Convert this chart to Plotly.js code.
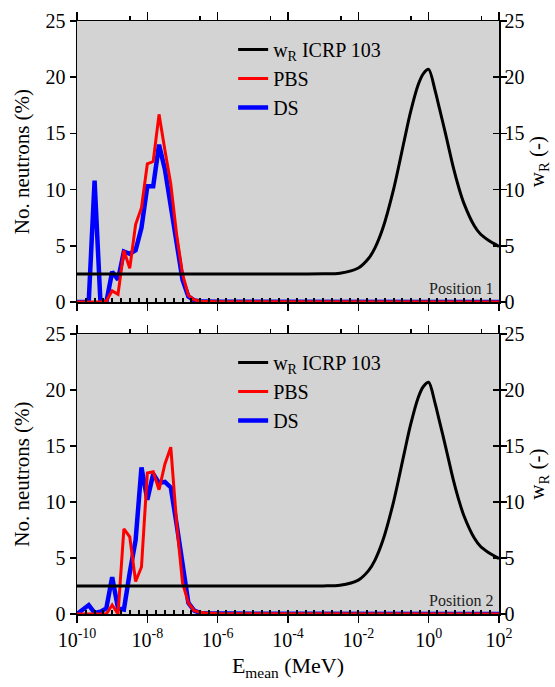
<!DOCTYPE html>
<html>
<head>
<meta charset="utf-8">
<script src="https://cdn.plot.ly/plotly-3.0.1.min.js"></script>
<style>html,body{margin:0;padding:0;background:#fff;}#chart{width:555px;height:687px;}
#chart text{font-family:"Liberation Serif","Times New Roman",Tinos,"DejaVu Serif",serif !important;}</style>
</head>
<body>
<div id="chart"></div>
<script>
// Neutron energy bins (MeV)
const energy = [1e-10,1.468e-10,2.154e-10,3.162e-10,4.642e-10,6.813e-10,
  1e-9,1.468e-9,2.154e-9,3.162e-9,4.642e-9,6.813e-9,
  1e-8,1.468e-8,2.154e-8,3.162e-8,4.642e-8,6.813e-8,
  1e-7,1.468e-7,2.154e-7,3.162e-7,4.642e-7,1e-6,
  1e-5,1e-4,1e-3,1e-2,1e-1,1,10,100];

// Position 1 (%)
const pbs1 = [0,0,0,0,0,0.1, 1.0,0.7,4.6,3.0,6.9,8.4, 12.3,12.5,16.7,13.5,10.5,6.0, 2.5,0.6,0.2,0.08,0.05,0.03, 0.02,0.02,0.01,0.01,0.01,0.01,0.01,0.01];
const ds1  = [0,0,0,10.8,0,0, 2.7,2.0,4.5,4.3,4.6,6.6, 10.3,10.3,14.0,11.8,8.7,5.3, 2.0,0.5,0.15,0.08,0.05,0.03, 0.02,0.02,0.01,0.01,0.01,0.01,0.01,0.01];
// Position 2 (%)
const pbs2 = [0,0,0,0,0,0, 0.8,0,7.6,6.9,2.9,4.2, 12.6,12.7,11.1,13.4,14.9,8.1, 2.8,1.0,0.3,0.15,0.08,0.05, 0.03,0.02,0.01,0.01,0.01,0.01,0.01,0.01];
const ds2  = [0,0.4,0.8,0.1,0.2,0.5, 3.3,0.5,0.4,3.7,6.6,13.1, 10.2,12.5,11.7,11.8,11.3,8.0, 4.2,1.0,0.3,0.1,0.06,0.04, 0.03,0.02,0.01,0.01,0.01,0.01,0.01,0.01];

// Radiation weighting factor w_R (ICRP 103)
const wrEnergy = [1e-10,1e-6,1e-4,3e-4,1e-3,3e-3,1e-2,2e-2,3e-2,5e-2,0.1,0.2,0.3,0.5,0.7,1,1.5,2,3,5,7,10,20,30,50,70,100];
const wrValue  = [2.5,2.5,2.5,2.5,2.51,2.57,3.03,3.92,4.84,6.58,10.0,14.3,16.8,19.3,20.3,20.7,18.9,17.3,15.0,12.0,10.3,8.8,6.76,6.03,5.5,5.22,4.95];

const seriesNames = ['w<sub>R</sub> ICRP 103','PBS','DS'];
const panelLabels = ['Position 1','Position 2'];
const xTickVals = [1e-10,1e-8,1e-6,1e-4,1e-2,1,100];
const xTickText = ['10<sup>-10</sup>','10<sup>-8</sup>','10<sup>-6</sup>','10<sup>-4</sup>','10<sup>-2</sup>','10<sup>0</sup>','10<sup>2</sup>'];

const FONT = 'Liberation Serif, Times New Roman, Tinos, DejaVu Serif, serif';
const GRAY = 'rgb(211,211,211)';

function panel(pbs, ds, xa, ya, leg) {
  return [
    {x: energy, y: ds, xaxis: xa, yaxis: ya, type: 'scatter', mode: 'lines', name: seriesNames[2],
     line: {color: '#0000ff', width: 4.5}, legend: leg, legendrank: 3},
    {x: energy, y: pbs, xaxis: xa, yaxis: ya, type: 'scatter', mode: 'lines', name: seriesNames[1],
     line: {color: '#ff0000', width: 3}, legend: leg, legendrank: 2},
    {x: wrEnergy, y: wrValue, xaxis: xa, yaxis: ya, type: 'scatter', mode: 'lines', name: seriesNames[0],
     line: {color: '#000000', width: 3, shape: 'spline', smoothing: 0.8}, legend: leg, legendrank: 1}
  ];
}

const traces = [].concat(
  panel(pbs1, ds1, 'x', 'y', 'legend'),
  panel(pbs2, ds2, 'x2', 'y2', 'legend2'),
  [
    {x: [], y: [], xaxis: 'x3', yaxis: 'y', showlegend: false, hoverinfo: 'skip'},
    {x: [], y: [], xaxis: 'x4', yaxis: 'y2', showlegend: false, hoverinfo: 'skip'},
    {x: [], y: [], xaxis: 'x5', yaxis: 'y', showlegend: false, hoverinfo: 'skip'},
    {x: [], y: [], xaxis: 'x6', yaxis: 'y2', showlegend: false, hoverinfo: 'skip'},
    {x: [], y: [], xaxis: 'x', yaxis: 'y3', showlegend: false, hoverinfo: 'skip'},
    {x: [], y: [], xaxis: 'x2', yaxis: 'y4', showlegend: false, hoverinfo: 'skip'}
  ]
);

const topDom = [0.526, 1.0];
const botDom = [0.0, 0.472];

function mainX(anchor, labels) {
  return {
    type: 'log', range: [-10, 2], anchor: anchor, domain: [0, 1],
    tickmode: 'array', tickvals: xTickVals, ticktext: xTickText,
    ticks: 'outside', ticklen: 7, tickwidth: 1.5, tickcolor: '#000',
    showline: true, linecolor: '#000', linewidth: 1.5,
    showgrid: false, zeroline: false, showticklabels: labels,
    tickfont: {family: FONT, size: 20, color: '#000'}
  };
}
function topX(over, anchor) {
  return {
    type: 'linear', range: [-10, 2], overlaying: over, anchor: anchor, side: 'top',
    tickmode: 'linear', tick0: -10, dtick: 2,
    ticks: 'outside', ticklen: 8, tickwidth: 1.5, tickcolor: '#000',
    minor: {tickmode: 'linear', tick0: -8.5, dtick: 2, ticks: 'outside', ticklen: 4, tickwidth: 1.5, tickcolor: '#000'},
    showline: true, linecolor: '#000', linewidth: 1.5,
    showgrid: false, zeroline: false, showticklabels: false
  };
}
function dotX(over, anchor) {
  return {
    type: 'linear', range: [-10, 2], overlaying: over, anchor: anchor, side: 'bottom',
    tickmode: 'linear', tick0: -10, dtick: 0.25,
    ticks: 'inside', ticklen: 4.5, tickwidth: 2, tickcolor: '#000',
    showline: false, showgrid: false, zeroline: false, showticklabels: false,
    layer: 'above traces'
  };
}
function leftY(anchor, dom) {
  return {
    range: [0, 25], domain: dom, anchor: anchor, dtick: 5,
    ticks: 'outside', ticklen: 6, tickwidth: 1.5, tickcolor: '#000',
    showline: true, linecolor: '#000', linewidth: 1.5, mirror: 'ticks',
    showgrid: false, zeroline: false,
    tickfont: {family: FONT, size: 20, color: '#000'},
    title: {text: 'No. neutrons (%)', font: {family: FONT, size: 21, color: '#000'}, standoff: 10}
  };
}
function rightY(over, anchor) {
  return {
    range: [0, 25], overlaying: over, anchor: anchor, side: 'right', dtick: 5,
    ticks: 'inside', ticklen: 6, tickwidth: 1.5, tickcolor: '#000',
    showline: true, linecolor: '#000', linewidth: 1.5,
    showgrid: false, zeroline: false,
    tickfont: {family: FONT, size: 20, color: '#000'},
    title: {text: 'w<sub>R</sub> (-)', font: {family: FONT, size: 21, color: '#000'}, standoff: 6}
  };
}

const legendBase = {
  bgcolor: 'rgba(0,0,0,0)', borderwidth: 0,
  font: {family: FONT, size: 20, color: '#000'},
  xref: 'paper', yref: 'paper', xanchor: 'left', yanchor: 'top',
  traceorder: 'normal'
};

const layout = {
  width: 555, height: 687,
  margin: {l: 77, r: 56, t: 21, b: 73},
  paper_bgcolor: '#ffffff',
  plot_bgcolor: GRAY,
  font: {family: FONT, color: '#000'},
  showlegend: true,
  xaxis: mainX('y', false),
  xaxis2: Object.assign(mainX('y2', true), {
    title: {text: 'E<sub>mean</sub> (MeV)', font: {family: FONT, size: 22, color: '#000'}, standoff: 8}
  }),
  xaxis3: topX('x', 'y'),
  xaxis4: topX('x2', 'y2'),
  xaxis5: dotX('x', 'y'),
  xaxis6: dotX('x2', 'y2'),
  yaxis: leftY('x', topDom),
  yaxis2: leftY('x2', botDom),
  yaxis3: rightY('y', 'x'),
  yaxis4: rightY('y2', 'x2'),
  legend: Object.assign({}, legendBase, {x: 0.37, y: 0.985}),
  legend2: Object.assign({}, legendBase, {x: 0.37, y: 0.457}),
  annotations: [
    {text: panelLabels[0], xref: 'x domain', yref: 'y domain', x: 0.99, y: 0.01,
     xanchor: 'right', yanchor: 'bottom', showarrow: false, font: {family: FONT, size: 16, color: '#222'}},
    {text: panelLabels[1], xref: 'x2 domain', yref: 'y2 domain', x: 0.99, y: 0.01,
     xanchor: 'right', yanchor: 'bottom', showarrow: false, font: {family: FONT, size: 16, color: '#222'}}
  ]
};

Plotly.newPlot('chart', traces, layout, {displayModeBar: false, staticPlot: true});
</script>
</body>
</html>
